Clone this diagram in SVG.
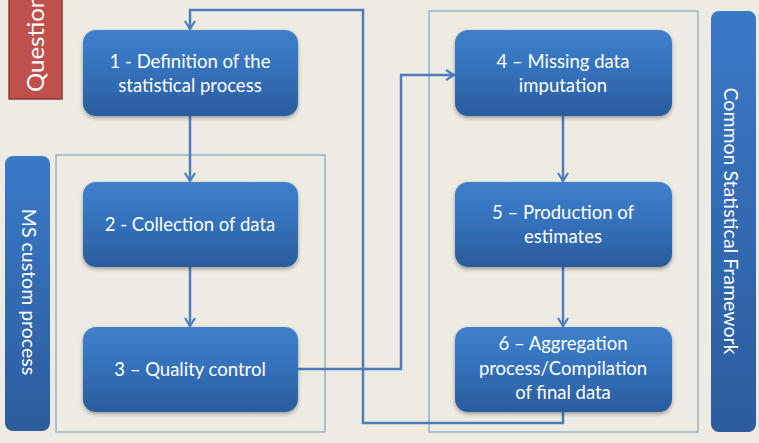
<svg xmlns="http://www.w3.org/2000/svg" width="759" height="443" viewBox="0 0 759 443">
<defs>
<linearGradient id="gNode" x1="0" y1="0" x2="0" y2="1">
<stop offset="0" stop-color="#3E80CC"/>
<stop offset="0.5" stop-color="#3470BA"/>
<stop offset="1" stop-color="#2A5C9C"/>
</linearGradient>
<linearGradient id="gBar" x1="0" y1="0" x2="0" y2="1">
<stop offset="0" stop-color="#3A79C8"/>
<stop offset="1" stop-color="#2C5C9C"/>
</linearGradient>
<filter id="sh" x="-10%" y="-10%" width="120%" height="130%">
<feGaussianBlur in="SourceAlpha" stdDeviation="2"/>
<feOffset dx="0" dy="2" result="b"/>
<feComponentTransfer><feFuncA type="linear" slope="0.35"/></feComponentTransfer>
<feMerge><feMergeNode/><feMergeNode in="SourceGraphic"/></feMerge>
</filter>
<marker id="arr" viewBox="0 0 12 12" refX="10" refY="6" markerWidth="12" markerHeight="12" markerUnits="userSpaceOnUse" orient="auto">
<path d="M2,1 L10,6 L2,11" fill="none" stroke="#4A7EBB" stroke-width="2.2"/>
</marker>
</defs>
<style>
.node rect{fill:url(#gNode);filter:url(#sh)}
.lbl{font-family:Lato,"Open Sans",sans-serif;font-size:18.5px;fill:#FFFFFF;text-anchor:middle}
.side{font-size:19.5px}
.cont{fill:none;stroke:#86A2C6;stroke-width:1.2}
.conn path{fill:none;stroke:#4A7EBB;stroke-width:2.5}
.bar{fill:url(#gBar)}
</style>
<rect width="759" height="443" fill="#EEEBE3"/>

<g id="question">
<rect x="9" y="-10" width="53" height="109" fill="#C0504D" stroke="#8E3B39" stroke-width="1.5"/>
<text class="lbl" transform="translate(44,92) rotate(-90)" style="text-anchor:start;font-size:24px">Question</text>
</g>

<g id="ms-custom">
<rect class="cont" x="56" y="155" width="269" height="277"/>
<rect class="bar" x="5" y="156" width="45" height="275" rx="8"/>
<text class="lbl side" transform="translate(22,292) rotate(90)">MS custom process</text>
</g>

<g id="csf">
<rect class="cont" x="429" y="11" width="269" height="421"/>
<rect class="bar" x="711" y="11" width="45" height="421" rx="8"/>
<text class="lbl side" transform="translate(724,221) rotate(90)">Common Statistical Framework</text>
</g>

<g class="conn" id="connectors">
<path d="M563,412 V423 H363 V10 H190 V29" marker-end="url(#arr)"/>
<path d="M190,116 V181" marker-end="url(#arr)"/>
<path d="M190,267 V326" marker-end="url(#arr)"/>
<path d="M298,369 H401 V75 H454" marker-end="url(#arr)"/>
<path d="M563,116 V181" marker-end="url(#arr)"/>
<path d="M563,267 V326" marker-end="url(#arr)"/>
</g>

<g class="node" id="n1">
<rect x="83" y="30" width="215" height="86" rx="13"/>
<text class="lbl" x="190" y="68">1 - Definition of the</text>
<text class="lbl" x="190" y="92">statistical process</text>
</g>
<g class="node" id="n2">
<rect x="83" y="182" width="215" height="85" rx="13"/>
<text class="lbl" x="190" y="231">2 - Collection of data</text>
</g>
<g class="node" id="n3">
<rect x="83" y="327" width="215" height="85" rx="13"/>
<text class="lbl" x="190" y="376">3 – Quality control</text>
</g>
<g class="node" id="n4">
<rect x="455" y="30" width="217" height="86" rx="13"/>
<text class="lbl" x="563" y="68">4 – Missing data</text>
<text class="lbl" x="563" y="92">imputation</text>
</g>
<g class="node" id="n5">
<rect x="455" y="182" width="217" height="85" rx="13"/>
<text class="lbl" x="563" y="219">5 – Production of</text>
<text class="lbl" x="563" y="243">estimates</text>
</g>
<g class="node" id="n6">
<rect x="455" y="327" width="217" height="85" rx="13"/>
<text class="lbl" x="563" y="350">6 – Aggregation</text>
<text class="lbl" x="563" y="375">process/Compilation</text>
<text class="lbl" x="563" y="399">of final data</text>
</g>
</svg>
